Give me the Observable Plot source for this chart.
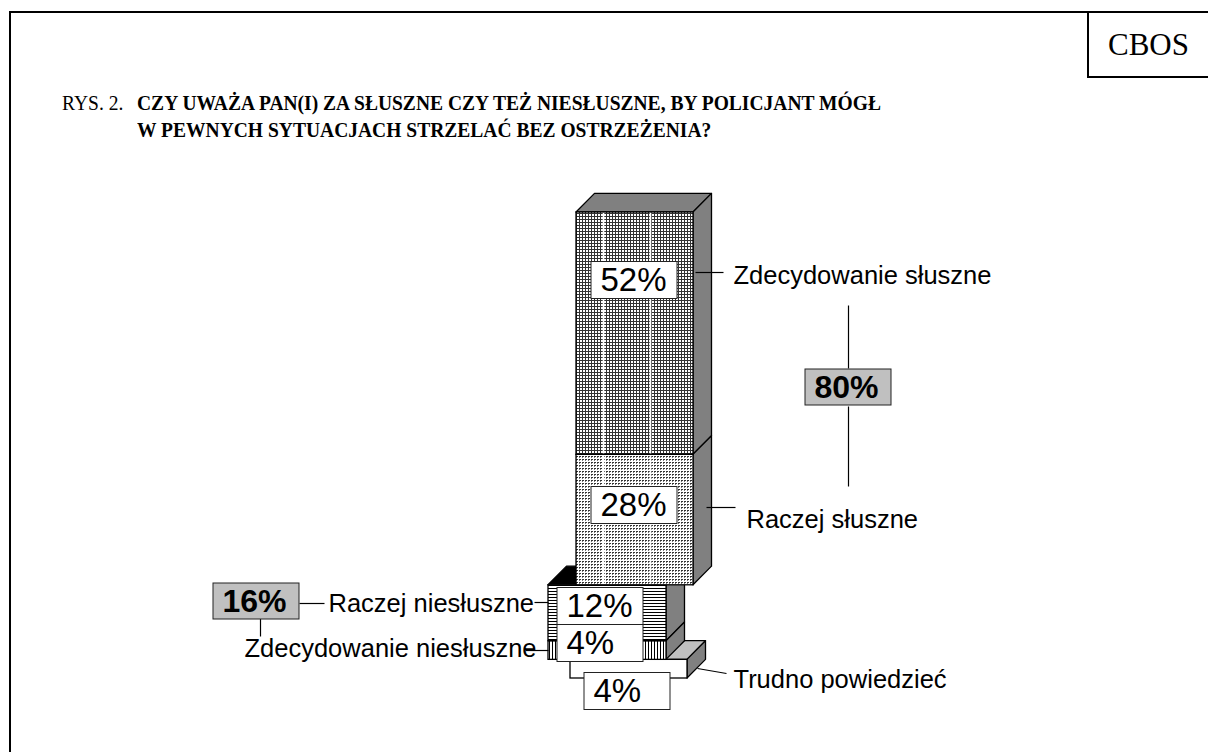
<!DOCTYPE html>
<html><head><meta charset="utf-8">
<script src="https://cdn.jsdelivr.net/npm/d3@7"></script>
<script src="https://cdn.jsdelivr.net/npm/@observablehq/plot@0.6"></script>
<style>
html,body{margin:0;padding:0;background:#fff;}
#page{position:relative;width:1208px;height:752px;overflow:hidden;background:#fff;}
#chart{position:absolute;left:0;top:0;}
.frameL{position:absolute;left:9px;top:11px;width:2px;height:741px;background:#000;}
.frameT{position:absolute;left:9px;top:11px;width:1199px;height:2px;background:#000;}
#cbos{position:absolute;left:1087px;top:11px;width:121px;height:67px;border-left:2px solid #000;border-bottom:2px solid #000;box-sizing:border-box;display:flex;align-items:center;justify-content:center;font:31px "Liberation Serif","Times New Roman",serif;color:#000;padding-top:2px;}
.title{position:absolute;font-family:"Liberation Serif","Times New Roman",serif;font-size:21px;line-height:27px;transform:scaleX(0.93);transform-origin:0 0;white-space:nowrap;color:#000;}
</style></head>
<body><div id="page">
<div id="chart"></div>
<div class="frameL"></div><div class="frameT"></div>
<div id="cbos"></div>
<div class="title" id="fig" style="left:62px;top:90px;"></div>
<div class="title" id="ttl" style="left:137px;top:90px;font-weight:bold;"></div>
</div>
<script>
// ---------- data ----------
const source = "CBOS";
const figureLabel = "RYS. 2.";
const titleLines = [
  "CZY UWAŻA PAN(I) ZA SŁUSZNE CZY TEŻ NIESŁUSZNE, BY POLICJANT MÓGŁ",
  "W PEWNYCH SYTUACJACH STRZELAĆ BEZ OSTRZEŻENIA?"
];
const categories = ["Zdecydowanie słuszne", "Raczej słuszne", "Raczej niesłuszne", "Zdecydowanie niesłuszne", "Trudno powiedzieć"];
const values = [52, 28, 12, 4, 4];
const stackGroup = [0, 0, 1, 1, 2]; // 0: słuszne, 1: niesłuszne, 2: trudno powiedzieć

// ---------- text / header ----------
document.getElementById("cbos").textContent = source;
document.getElementById("fig").textContent = figureLabel;
document.getElementById("ttl").innerHTML = titleLines.join("<br>");

// ---------- layout (pixels / styles) ----------
const yOpts = {domain: [0, 100], range: [678, 212]};
const yS = Plot.scale({y: yOpts});
const Y = px => yS.invert(px);
const DX = 18.5, DEPTH = 4;
const bars = [
  {left: 576, right: 693, top: "#808080"},
  {left: 548, right: 666, top: "#000000"},
  {left: 570, right: 687, top: "#c0c0c0"}
];
const frontFill = ["url(#p52)", "url(#p28)", "url(#p12)", "url(#p4)", "#ffffff"];
const textureLines = [603, 650]; // white texture stripes on the tall bar
const pctBox = [ // box centre (px) for each value label
  {cx: 634, cy: 280}, {cx: 634, cy: 505}, {cx: 600, cy: 606}, {cx: 600, cy: 643}, {cx: 627, cy: 691}
];
const catLabel = [ // category label positions and leader lines (px)
  {x: 733, y: 275, lines: [[695, 272, 723, 272]]},
  {x: 746, y: 519, lines: [[706, 507, 735, 507]]},
  {x: 328, y: 603, lines: [[534, 602, 548, 602], [299, 603, 324, 603]]},
  {x: 244, y: 648, lines: [[525, 650, 548, 650], [260, 618, 260, 636]]},
  {x: 733, y: 679, lines: [[697, 668, 726, 673]]}
];
const totalBox = [
  {group: 0, cx: 848, cy: 387, lines: [[848, 305, 848, 368], [848, 406, 848, 486]]},
  {group: 1, cx: 256, cy: 601, lines: []}
];

// ---------- stacking ----------
const segs = [];
let acc = 0;
for (let i = values.length - 1; i >= 0; i--) {
  segs[i] = {i, cat: categories[i], value: values[i], y1: acc, y2: acc + values[i], g: stackGroup[i], fill: frontFill[i]};
  acc += values[i];
}
const groupTotals = [0, 1, 2].map(g => d3.sum(segs.filter(s => s.g === g), s => s.value));

// ---------- marks ----------
const marks = [];
for (const g of [2, 1, 0]) {
  const b = bars[g];
  const gs = segs.filter(s => s.g === g);
  const top = d3.max(gs, s => s.y2);
  const bottom = d3.min(gs, s => s.y1);
  marks.push(Plot.areaX([{y: top, x1: b.left, x2: b.right}, {y: top + DEPTH, x1: b.left + DX, x2: b.right + DX}],
    {y: "y", x1: "x1", x2: "x2", fill: b.top, stroke: "black", strokeWidth: 1.3}));
  const side = gs.flatMap(s => [
    {cat: s.cat, x: b.right, y1: s.y1, y2: s.y2},
    {cat: s.cat, x: b.right + DX, y1: s.y1 + DEPTH, y2: s.y2 + DEPTH}
  ]);
  marks.push(Plot.areaY(side, {x: "x", y1: "y1", y2: "y2", z: "cat", fill: "#808080", stroke: "black", strokeWidth: 1.3}));
  marks.push(Plot.rect(gs, {x1: () => b.left, x2: () => b.right, y1: "y1", y2: "y2", fill: "fill"}));
  if (g === 0) {
    marks.push(Plot.ruleX(textureLines, {y1: bottom, y2: top, stroke: "white", strokeWidth: 1.6}));
  }
  marks.push(Plot.rect(gs, {x1: () => b.left, x2: () => b.right, y1: "y1", y2: "y2", fill: "none", stroke: "black", strokeWidth: 1.3}));
}

// value labels
const vLab = segs.map((s, k) => ({
  label: s.value + "%",
  x1: pctBox[k].cx - 43, x2: pctBox[k].cx + 43,
  y1: Y(pctBox[k].cy + 18.5), y2: Y(pctBox[k].cy - 18.5),
  tx: pctBox[k].cx - 34, ty: Y(pctBox[k].cy)
}));
marks.push(Plot.rect(vLab, {x1: "x1", x2: "x2", y1: "y1", y2: "y2", fill: "white", stroke: "#222", strokeWidth: 1}));
marks.push(Plot.text(vLab, {x: "tx", y: "ty", text: "label", textAnchor: "start", fontSize: 33, fill: "black"}));

// leader lines
const links = [];
catLabel.forEach(c => c.lines.forEach(l => links.push({x1: l[0], y1: Y(l[1]), x2: l[2], y2: Y(l[3])})));
totalBox.forEach(c => c.lines.forEach(l => links.push({x1: l[0], y1: Y(l[1]), x2: l[2], y2: Y(l[3])})));
marks.push(Plot.link(links, {x1: "x1", y1: "y1", x2: "x2", y2: "y2", stroke: "black", strokeWidth: 1.2}));

// category labels
const cLab = categories.map((c, k) => ({label: c, x: catLabel[k].x, y: Y(catLabel[k].y)}));
marks.push(Plot.text(cLab, {x: "x", y: "y", text: "label", textAnchor: "start", fontSize: 25.5, fill: "black"}));

// group totals
const tLab = totalBox.map(t => ({
  label: groupTotals[t.group] + "%",
  x1: t.cx - 43, x2: t.cx + 43, y1: Y(t.cy + 18), y2: Y(t.cy - 18),
  tx: t.cx - 34, ty: Y(t.cy)
}));
marks.push(Plot.rect(tLab, {x1: "x1", x2: "x2", y1: "y1", y2: "y2", fill: "#c0c0c0", stroke: "#222", strokeWidth: 1}));
marks.push(Plot.text(tLab, {x: "tx", y: "ty", text: "label", textAnchor: "start", fontSize: 32, fontWeight: "bold", fill: "black"}));

const svg = Plot.plot({
  width: 1208, height: 752,
  marginLeft: 0, marginRight: 0, marginTop: 212, marginBottom: 74,
  x: {domain: [0, 1208], axis: null},
  y: {...yOpts, axis: null},
  color: {type: "identity"},
  style: {fontFamily: "'Liberation Sans', Arial, sans-serif", background: "transparent", overflow: "visible"},
  marks
});

const ns = "http://www.w3.org/2000/svg";
const defs = document.createElementNS(ns, "defs");
defs.innerHTML = `
<pattern id="p52" width="3" height="3" patternUnits="userSpaceOnUse">
  <rect width="3" height="3" fill="#fff"/><rect width="3" height="1" fill="#333"/><rect width="1" height="3" fill="#333"/>
</pattern>
<pattern id="p28" width="3" height="3" patternUnits="userSpaceOnUse">
  <rect width="3" height="3" fill="#fff"/><rect width="2" height="1" fill="#333"/><rect y="1" width="1" height="1" fill="#777"/>
</pattern>
<pattern id="p12" width="4" height="3" patternUnits="userSpaceOnUse">
  <rect width="4" height="3" fill="#fff"/><rect width="4" height="1" fill="#000"/>
</pattern>
<pattern id="p4" width="3" height="3" patternUnits="userSpaceOnUse">
  <rect width="3" height="3" fill="#fff"/><rect width="1" height="3" fill="#000"/>
</pattern>`;
svg.insertBefore(defs, svg.firstChild);
document.getElementById("chart").appendChild(svg);
</script>
</body></html>
